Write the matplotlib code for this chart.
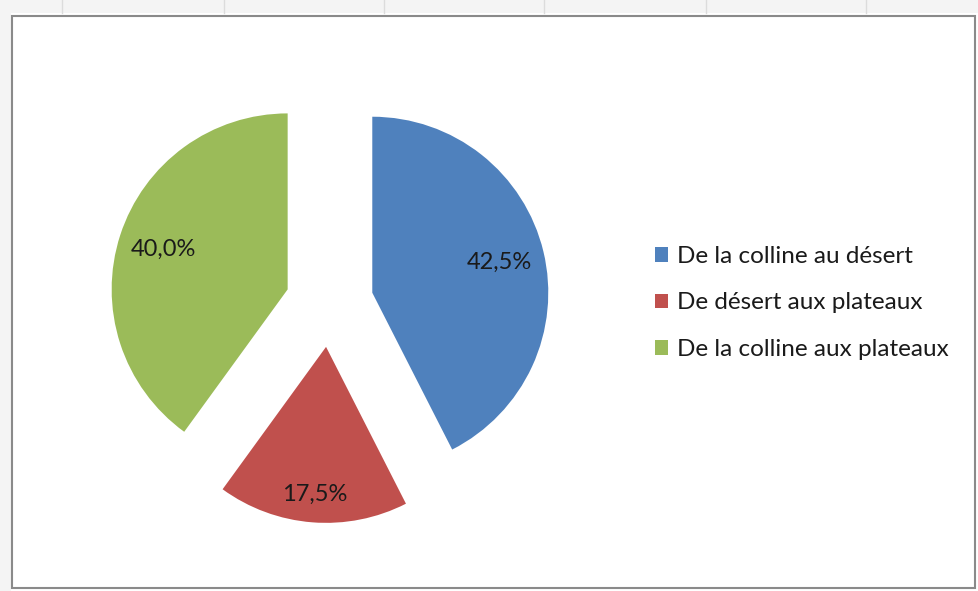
import matplotlib
matplotlib.use("Agg")
import matplotlib.pyplot as plt
from matplotlib.patches import Rectangle, Patch
from matplotlib.lines import Line2D

categories = ["De la colline au désert", "De désert aux plateaux", "De la colline aux plateaux"]
shares = [42.5, 17.5, 40.0]
colors = ["#4F81BD", "#C0504D", "#9BBB59"]

W, H = 979, 591
fig = plt.figure(figsize=(W / 100, H / 100), dpi=100)
plt.rcParams["font.family"] = ["Lato", "DejaVu Sans"]

# Pie axes: centre and scale in pixels
cx, cy, r = 329.5, 303.0, 176.0
aw, ah = 600.0, 560.0
ax = fig.add_axes([(cx - aw / 2) / W, (H - cy - ah / 2) / H, aw / W, ah / H])

wedges, texts, autotexts = ax.pie(
    shares,
    colors=colors,
    startangle=90,
    counterclock=False,
    explode=[0.25] * len(shares),
    autopct=lambda p: f"{p:.1f}%".replace(".", ","),
    pctdistance=0.74,
    wedgeprops=dict(linewidth=0),
    textprops=dict(fontsize=17, color="#1a1a1a"),
)
# pull the small slice's label further out toward its arc
x, y = autotexts[1].get_position()
autotexts[1].set_position((x * 1.1, y * 1.1))

ax.set_xlim(-aw / 2 / r, aw / 2 / r)
ax.set_ylim(-ah / 2 / r, ah / 2 / r)
ax.axis("off")

# Legend
handles = [Patch(facecolor=c, edgecolor="none") for c in colors]
fig.legend(
    handles, categories,
    loc="center left",
    bbox_to_anchor=(633 / W, 1 - 303 / H),
    frameon=False,
    fontsize=17.5,
    handlelength=0.55,
    handleheight=0.55,
    handletextpad=0.35,
    labelspacing=1.05,
    labelcolor="#1a1a1a",
)

# Chart frame and surrounding sheet grid
for xg in [62, 224, 384, 544, 706, 866]:
    fig.add_artist(Line2D([xg / W, xg / W], [1 - 0 / H, 1 - 13 / H], color="#dcdcdc", lw=1))
fig.add_artist(Rectangle((0, 1 - 13 / H), 1, 13 / H, facecolor="#f4f4f4", edgecolor="none", zorder=-1))
fig.add_artist(Rectangle((0, 0), 11 / W, 1, facecolor="#f4f4f4", edgecolor="none", zorder=-1))
fig.add_artist(Rectangle((12 / W, 3 / H), 963 / W, 572 / H, facecolor="none",
                         edgecolor="#8a8a8a", lw=1.5))

fig.savefig("out.png", dpi=100)
